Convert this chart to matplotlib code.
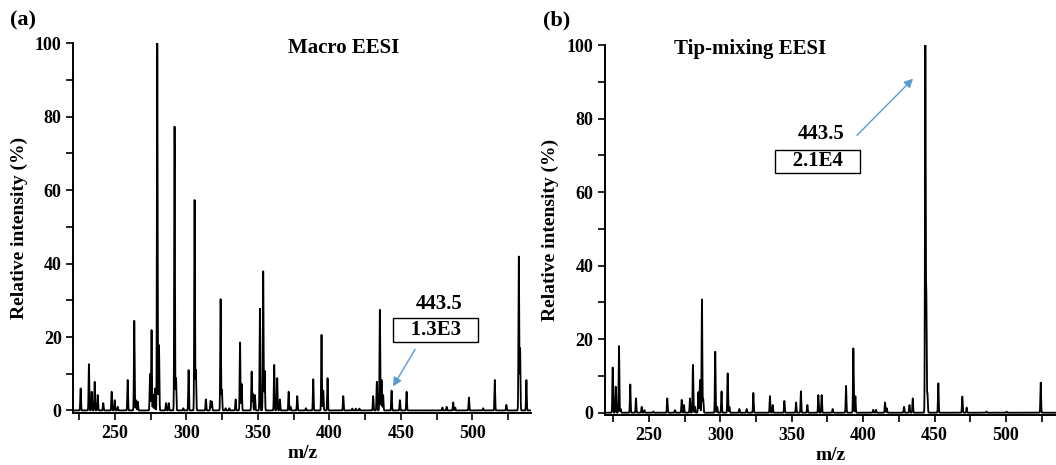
import numpy as np
import matplotlib.pyplot as plt
from matplotlib.ticker import MultipleLocator

plt.rcParams['font.family'] = ['Liberation Serif', 'DejaVu Serif']
plt.rcParams['font.weight'] = 'bold'
plt.rcParams['axes.labelweight'] = 'bold'

# peak lists (m/z, relative intensity %)
macro_mz = [226.0, 231.8, 233.7, 235.8, 237.9, 241.8, 247.7, 249.8, 251.9, 258.9,
            263.5, 264.7, 265.9, 274.5, 275.6, 276.8, 278.0, 279.6, 280.8, 285.7,
            287.6, 291.7, 292.7, 297.8, 301.5, 305.7, 306.6, 313.6, 316.9, 317.8,
            323.9, 324.8, 327.4, 330.0, 334.4, 337.5, 338.6, 345.6, 346.5, 347.9,
            351.4, 353.7, 354.7, 361.4, 363.5, 365.4, 371.5, 372.8, 377.5, 383.6,
            388.7, 394.5, 395.7, 398.7, 409.7, 416.0, 418.5, 421.0, 430.6, 433.2,
            435.3, 436.5, 437.6, 443.5, 449.3, 454.0, 479.0, 482.0, 486.6, 488.0,
            497.6, 507.6, 515.7, 523.8, 532.5, 533.4, 537.8]
macro_int = [6.0, 12.6, 5.1, 7.8, 4.2, 2.0, 5.1, 2.8, 1.0, 8.3,
             24.4, 2.8, 2.4, 9.9, 21.9, 4.2, 6.0, 100.0, 17.8, 2.0,
             2.0, 77.3, 8.8, 0.6, 11.0, 57.3, 11.0, 3.0, 2.6, 2.4,
             30.3, 5.6, 0.6, 0.6, 3.0, 18.5, 7.2, 10.6, 4.5, 4.2,
             27.7, 37.9, 10.8, 12.4, 8.8, 3.0, 5.1, 1.0, 3.9, 0.6,
             8.5, 20.6, 5.4, 8.8, 3.9, 0.5, 0.5, 0.5, 3.9, 7.8,
             27.4, 8.3, 4.2, 5.4, 2.8, 5.1, 0.8, 1.0, 2.2, 0.8,
             3.5, 0.6, 8.3, 1.5, 41.9, 16.9, 8.3]

tip_mz = [224.6, 226.7, 229.0, 230.2, 236.9, 240.9, 244.9, 246.8, 253.0, 262.8,
          268.2, 272.9, 274.5, 278.7, 280.8, 282.2, 284.6, 285.7, 287.1, 288.0,
          296.4, 297.8, 300.8, 305.1, 306.3, 313.3, 318.4, 323.1, 334.7, 336.6,
          344.8, 353.0, 356.4, 360.9, 368.6, 370.9, 378.6, 388.0, 393.1, 394.5,
          407.0, 409.0, 415.3, 416.5, 428.6, 432.4, 434.7, 443.5, 444.2, 445.0,
          452.6, 469.4, 472.4, 486.4, 500.4, 524.3]
tip_int = [12.3, 7.1, 18.1, 1.0, 7.7, 3.9, 1.6, 0.7, 0.3, 3.9,
           0.7, 3.5, 2.1, 3.9, 13.0, 1.6, 5.6, 8.9, 30.8, 3.6,
           16.6, 1.6, 5.8, 10.7, 1.6, 1.0, 1.0, 5.4, 4.5, 2.1,
           3.2, 2.8, 5.8, 2.1, 4.8, 4.8, 1.0, 7.3, 17.5, 4.5,
           0.8, 0.8, 2.8, 1.2, 1.6, 2.1, 3.9, 100.0, 31.1, 5.1,
           8.0, 4.4, 1.4, 0.3, 0.3, 8.2]

TARGET_MZ = 443.5
ARROW_BLUE = '#5b9bd5'


def spectrum(mz, intensity, lo, hi, width=0.25):
    '''
    Builds a line profile from a peak list, one narrow gaussian per peak
    '''
    x = np.arange(lo, hi, 0.02)
    y = np.zeros_like(x)
    for m, h in zip(mz, intensity):
        y += h * np.exp(-0.5 * ((x - m) / width) ** 2)
    return x, y


def style_axes(ax, xlim):
    ax.set_xlim(*xlim)
    ax.set_ylim(-0.7, 100)
    ax.spines['top'].set_visible(False)
    ax.spines['right'].set_visible(False)
    for side in ['left', 'bottom']:
        ax.spines[side].set_linewidth(1.4)
    ax.xaxis.set_major_locator(MultipleLocator(50))
    ax.xaxis.set_minor_locator(MultipleLocator(25))
    ax.yaxis.set_major_locator(MultipleLocator(20))
    ax.yaxis.set_minor_locator(MultipleLocator(10))
    ax.tick_params(which='both', direction='out', length=5, width=1.2, labelsize=13)
    ax.set_xlabel('m/z', fontsize=14, labelpad=2)
    ax.set_ylabel('Relative intensity (%)', fontsize=14, labelpad=5)


def intensity_at(mz, intensity, target):
    i = int(np.argmin(np.abs(np.array(mz) - target)))
    return intensity[i]


fig = plt.figure(figsize=(10.56, 4.65), dpi=100)
ax_a = fig.add_axes([0.0696, 0.1118, 0.4332, 0.7951])
ax_b = fig.add_axes([0.5729, 0.1069, 0.4271, 0.7963])

# (a) macro EESI
x, y = spectrum(macro_mz, macro_int, 221, 541)
ax_a.plot(x, y, color='black', lw=1.3)
style_axes(ax_a, (221, 541))
ax_a.text(410, 98.7, 'Macro EESI', fontsize=15, ha='center', va='center')
ax_a.text(477, 29.1, '443.5', fontsize=15, ha='center', va='center')
ax_a.text(474.5, 21.9, '   1.3E3   ', fontsize=15, ha='center', va='center',
          bbox=dict(boxstyle='square,pad=0.08', fc='white', ec='black', lw=1))
ax_a.annotate('', xy=(TARGET_MZ, intensity_at(macro_mz, macro_int, TARGET_MZ) + 0.5),
              xytext=(461, 17.3),
              arrowprops=dict(arrowstyle='-|>', color=ARROW_BLUE, lw=1, mutation_scale=13))

# (b) tip-mixing EESI
x, y = spectrum(tip_mz, tip_int, 219.2, 535)
ax_b.plot(x, y, color='black', lw=1.3)
style_axes(ax_b, (219.2, 535))
ax_b.text(320.7, 98.9, 'Tip-mixing EESI', fontsize=15, ha='center', va='center')
ax_b.text(370.8, 75.8, '443.5', fontsize=15, ha='center', va='center')
ax_b.text(368.3, 68.4, '   2.1E4   ', fontsize=15, ha='center', va='center',
          bbox=dict(boxstyle='square,pad=0.08', fc='white', ec='black', lw=1))
ax_b.annotate('', xy=(436.3, 91.4), xytext=(394.3, 74.9),
              arrowprops=dict(arrowstyle='-|>', color=ARROW_BLUE, lw=1, mutation_scale=13))

fig.text(0.0095, 0.957, '(a)', fontsize=16, ha='left', va='center')
fig.text(0.514, 0.957, '(b)', fontsize=16, ha='left', va='center')

fig.savefig('out.png', dpi=100)
